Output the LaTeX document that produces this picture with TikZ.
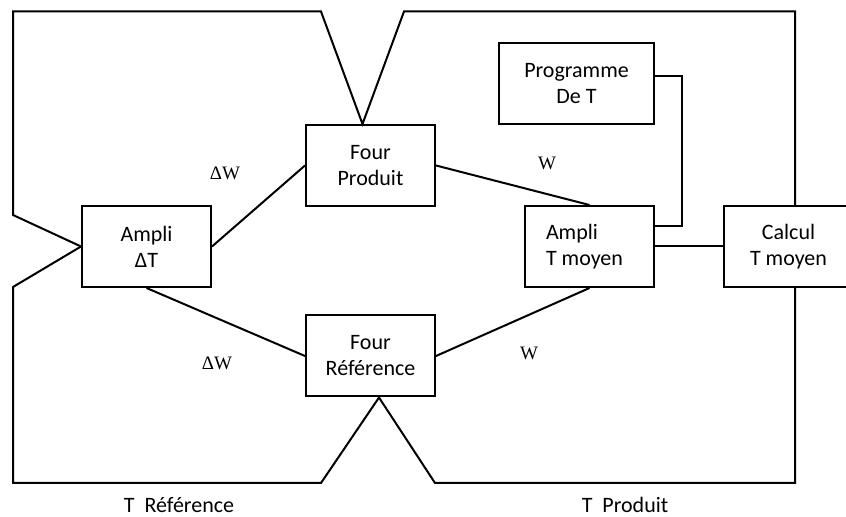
\documentclass[tikz,border=0pt]{standalone}
\usepackage{fontspec}
\setmainfont{Carlito}
\newfontfamily\timesfont{Liberation Serif}
\usetikzlibrary{calc}

\begin{document}
\begin{tikzpicture}[x=0.5pt,y=-0.5pt,font=\fontsize{11}{13}\selectfont,
 block/.style={draw,line width=1pt,minimum width=64.5pt,minimum height=40.5pt,align=center,inner sep=0pt},
 leftblock/.style={block,align=flush left,text width=43.5pt,inner xsep=10.5pt},
 sig/.style={font=\timesfont\fontsize{9.5}{11}\selectfont},
 caption/.style={anchor=base,inner sep=1pt},
 wire/.style={line width=1pt,line join=miter}]
\useasboundingbox (0,0) rectangle (846,517);
\node[block] (ampliDT) at (146.5,246.5) {Ampli\\ΔT};
\node[block] (fourP) at (370.5,165.5) {Four\\Produit};
\node[block] (fourR) at (370.5,356) {Four\\Référence};
\node[block,minimum width=77.5pt] (prog) at (576.5,84) {Programme\\De T};
\node[leftblock] (ampliTm) at (589.5,246.5) {Ampli\\T moyen};
\node[block] (calcul) at (788.5,246.5) {Calcul\\T moyen};
\coordinate (fpTop) at ($(fourP.north)+(-8,0)$);
\coordinate (frBot) at ($(fourR.south)+(8.5,0)$);
\node[sig] (dwP) at (225,173) {ΔW};
\node[sig] (dwR) at (217,363) {ΔW};
\node[sig] (wP) at (547,163) {W};
\node[sig] (wR) at (529,353) {W};
\node[caption] (tRef) at (179,513) {T\ \ Référence};
\node[caption] (tProd) at (625,513) {T\ \ Produit};
\draw[wire] (ampliDT.east)--(fourP.west);
\draw[wire] (ampliDT.south)--(fourR.west);
\draw[wire] (fourP.east)--(ampliTm.north);
\draw[wire] (fourR.east)--(ampliTm.south);
\draw[wire] ($(prog.east)+(0,-8)$)--++(27,0)|-($(ampliTm.east)+(0,-20)$);
\draw[wire] (ampliTm.east)--(calcul.west);
\draw[wire] (ampliDT.west)--(13,215)--(13,11.5)--(321,11.5)--(fpTop)--(404,11.5)--(795,11.5)--($(calcul.north)+(6.5,0)$);
\draw[wire] (ampliDT.west)--(13,287)--(13,483)--(321,483)--(frBot)--(435,483)--(795,483)--($(calcul.south)+(6.5,0)$);
\end{tikzpicture}
\end{document}
